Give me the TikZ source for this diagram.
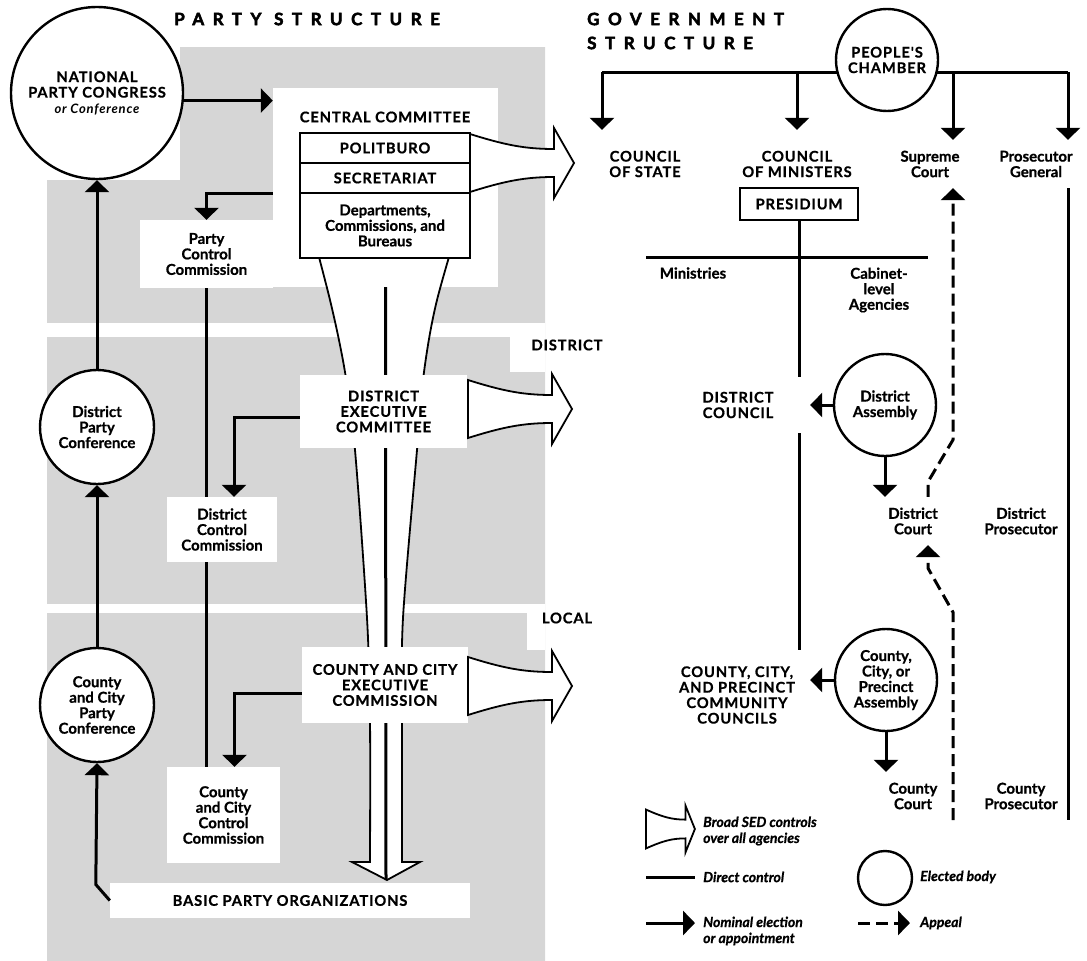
\documentclass[tikz,border=0pt]{standalone}
\usepackage{fontspec}
\setmainfont{Lato}[BoldFeatures={FakeBold=0.7},BoldItalicFeatures={FakeBold=0.7}]
\newfontfamily\capsfont{Lato}[LetterSpace=6,BoldFeatures={FakeBold=0.7}]
\newfontfamily\titlefont{Lato}[LetterSpace=50,FakeBold=3]
\usepackage{tikz}
\usetikzlibrary{shapes,arrows.meta}

\newcommand{\sedarrow}[2]{%
  \begin{scope}[shift={#1},#2]
    \draw[broad] (0,-29) .. controls (35,-18) and (55,-14) .. (84,-14) -- (84,-35) -- (104,0)
      -- (84,35) -- (84,14) .. controls (55,14) and (35,18) .. (0,29) -- cycle;
  \end{scope}}

\tikzset{
  lbl/.style={align=center, inner sep=0pt, font=\bfseries\fontsize{15}{15.5}\selectfont},
  caps/.style={align=center, inner sep=0pt, font=\capsfont\bfseries\fontsize{14.7}{15.5}\selectfont},
  legendtext/.style={align=left, inner sep=0pt, anchor=west, font=\bfseries\itshape\fontsize{14}{16}\selectfont},
  heading/.style={align=left, inner sep=0pt, anchor=west, font=\titlefont\bfseries\fontsize{17}{24}\selectfont},
  elected/.style={draw, circle, line width=2.4pt, fill=white, inner sep=0pt},
  box/.style={draw, rectangle, line width=1.8pt, fill=white, minimum width=170pt, minimum height=30pt},
  area/.style={fill=white},
  broad/.style={line width=1.8pt, fill=white, line join=miter},
  direct/.style={line width=3pt},
  appeal/.style={line width=3pt, dash pattern=on 12pt off 6pt}
}

\begin{document}
\begin{tikzpicture}[x=1pt, y=-1pt, >={Triangle[length=12pt,width=24pt]}]
    \useasboundingbox (0,0) rectangle (1087,961);
    \fill[black!16] (180,47) -- (545,47) -- (545,961) -- (47,961) -- (47,180) -- (180,180) -- cycle;
    \fill[white] (47,323) rectangle (545,337);
    \fill[white] (510,337) rectangle (545,372);
    \fill[white] (47,604) rectangle (545,613);
    \fill[white] (527,613) rectangle (545,650);

    \node[heading] (ptitle) at (174,19) {PARTY STRUCTURE};
    \node[heading] (gtitle) at (587,31) {GOVERNMENT\\STRUCTURE};

    \node[area, minimum width=225pt, minimum height=199pt] (ccarea) at (385.5,187.5) {};
    \draw[broad] plot[smooth] coordinates {(302,193) (330,300) (345,372) (355,450) (367,618) (370,720) (370,862)}
      -- (352,862) -- (387,880) -- (420,862)
      -- plot[smooth] coordinates {(402,862) (402,720) (403,618) (417,450) (424,372) (437,300) (468,193)} -- cycle;
    \coordinate (ftip) at (386,880);
    \draw[direct] (ccarea.south) -- (ftip);

    \node[caps] (cctitle) at (385,117) {CENTRAL COMMITTEE};
    \node[box, caps] (polit) at (385,148) {POLITBURO};
    \node[box, caps] (sec) at (385,178) {SECRETARIAT};
    \node[box, lbl, minimum height=65pt] (dept) at (385,225.5) {Departments,\\Commissions, and\\Bureaus};

    \node[area, lbl, minimum width=133pt, minimum height=68pt] (pcc) at (206.5,254) {Party\\Control\\Commission};
    \node[area, caps, minimum width=167pt, minimum height=73pt] (dec) at (383.5,411.5) {DISTRICT\\EXECUTIVE\\COMMITTEE};
    \node[area, lbl, minimum width=110pt, minimum height=65pt] (dcc) at (222,529.5) {District\\Control\\Commission};
    \node[area, caps, minimum width=166pt, minimum height=76pt] (ccec) at (385,685) {COUNTY AND CITY\\EXECUTIVE\\COMMISSION};
    \node[area, lbl, minimum width=113pt, minimum height=96pt] (cccc) at (223.5,815) {County\\and City\\Control\\Commission};
    \node[area, caps, minimum width=360pt, minimum height=35pt] (bpo) at (290,900.5) {BASIC PARTY ORGANIZATIONS};

    \node[elected, caps, minimum size=172pt] (npc) at (97,93) {NATIONAL\\PARTY CONGRESS\\{\itshape\fontsize{13}{15.5}\selectfont or Conference}};
    \node[elected, lbl, minimum size=114pt] (dpc) at (97,427) {District\\Party\\Conference};
    \node[elected, lbl, minimum size=114pt] (ccpc) at (97,705) {County\\and City\\Party\\Conference};

    \sedarrow{(470,163)}{}
    \sedarrow{(468,409)}{}
    \sedarrow{(468,686)}{}

    \node[caps] (district) at (567,345) {DISTRICT};
    \node[caps] (local) at (567,618) {LOCAL};

    \draw[direct,->] (npc.-5) -- (npc.-5 -| ccarea.west);
    \draw[direct,->] (ccarea.west |- sec.south) -| (pcc.north);
    \draw[direct] (pcc.south) -- (pcc.south |- dcc.north);
    \draw[direct] (pcc.south |- dcc.south) -- (pcc.south |- cccc.north);
    \draw[direct,->] ([yshift=-6pt]dec.west) -| ([xshift=12pt]dcc.north);
    \draw[direct,->] ([yshift=-8pt]ccec.west) -| ([xshift=11pt]cccc.north);
    \draw[direct,->] (bpo.west) -- ++(-14,-16) -- (ccpc.south);
    \draw[direct,->] (ccpc.north) -- (dpc.south);
    \draw[direct,->] (dpc.north) -- (npc.south);

    \coordinate (gl) at (602,72);
    \coordinate (sc) at (953,72);
    \coordinate (gr) at (1068,72);
    \draw[direct] (gl) -- (gr);
    \node[elected, caps, minimum size=102pt] (chamber) at (887,60) {PEOPLE'S\\CHAMBER};
    \node[caps, minimum height=68pt] (state) at (645,164) {COUNCIL\\OF STATE};
    \node[caps, minimum height=68pt] (ministers) at (797,164) {COUNCIL\\OF MINISTERS};
    \node[lbl, minimum height=48pt] (supreme) at (930,164) {Supreme\\Court};
    \node[lbl, minimum height=48pt] (prosgen) at (1036,164) {Prosecutor\\General};
    \draw[direct,->] (gl) -- (gl |- state.north);
    \draw[direct,->] (ministers.north |- gl) -- (ministers.north);
    \draw[direct,->] (sc) -- (sc |- supreme.north);
    \draw[direct,->] (gr) -- (gr |- prosgen.north);

    \node[box, caps, minimum width=118pt, minimum height=32pt] (presidium) at (799,204) {PRESIDIUM};
    \coordinate (ml) at (646,257);
    \coordinate (mr) at (928,257);
    \draw[direct] (ml) -- (mr);
    \node[lbl] (ministries) at (693,273) {Ministries};
    \node[lbl] (agencies) at (879,290) {Cabinet-\\level\\Agencies};

    \node[caps, minimum width=144pt, minimum height=56pt] (dcouncil) at (738,405) {DISTRICT\\COUNCIL};
    \node[caps, minimum width=146pt, minimum height=90pt] (ccouncil) at (737,695) {COUNTY, CITY,\\AND PRECINCT\\COMMUNITY\\COUNCILS};
    \draw[direct] (presidium.south) -- (presidium.south |- dcouncil.north);
    \draw[direct] (presidium.south |- dcouncil.south) -- (presidium.south |- ccouncil.north);

    \node[elected, lbl, minimum size=102pt] (dassembly) at (885,405) {District\\Assembly};
    \node[lbl, minimum height=48pt] (dcourt) at (913,521) {District\\Court};
    \node[lbl] (dpros) at (1021,521) {District\\Prosecutor};
    \node[elected, lbl, minimum size=102pt] (ccassembly) at (886,680) {County,\\City, or\\Precinct\\Assembly};
    \node[lbl, minimum height=48pt] (ccourt) at (913,796) {County\\Court};
    \node[lbl, minimum height=48pt] (cpros) at (1021,796) {County\\Prosecutor};

    \draw[direct,->] (dassembly.west) -- (dcouncil.east);
    \draw[direct,->] (dassembly.south) -- (dassembly.south |- dcourt.north);
    \draw[direct,->] (ccassembly.west) -- (ccassembly.west -| ccouncil.east);
    \draw[direct,->] (ccassembly.south) -- (ccassembly.south |- ccourt.north);
    \draw[direct] (gr |- prosgen.south) -- (gr |- cpros.south);
    \draw[appeal,->] ([xshift=15pt]dcourt.north) -- ++(0,-15) -- ++(25,-42) -- (sc |- supreme.south);
    \draw[appeal,->] (sc |- ccourt.south) -- ++(0,-208) -- ++(-25,-44) -- ([xshift=15pt]dcourt.south);

    \sedarrow{(646,829)}{xscale=0.47,yscale=0.67}
    \node[legendtext] (lbroad) at (703,831) {Broad SED controls\\over all agencies};
    \node[legendtext] (ldirect) at (703,877) {Direct control};
    \draw[direct] ([xshift=-57pt]ldirect.west) -- ([xshift=-8pt]ldirect.west);
    \node[elected, minimum size=54pt] (lbody) at (885,878) {};
    \node[legendtext] (lelected) at (920,877) {Elected body};
    \node[legendtext] (lnominal) at (703,931) {Nominal election\\or appointment};
    \draw[direct,->] ([xshift=-57pt,yshift=8pt]lnominal.west) -- ([xshift=-8pt,yshift=8pt]lnominal.west);
    \node[legendtext] (lappeal) at (920,923) {Appeal};
    \draw[appeal,->] ([xshift=-62pt]lappeal.west) -- ([xshift=-10pt]lappeal.west);
\end{tikzpicture}
\end{document}
